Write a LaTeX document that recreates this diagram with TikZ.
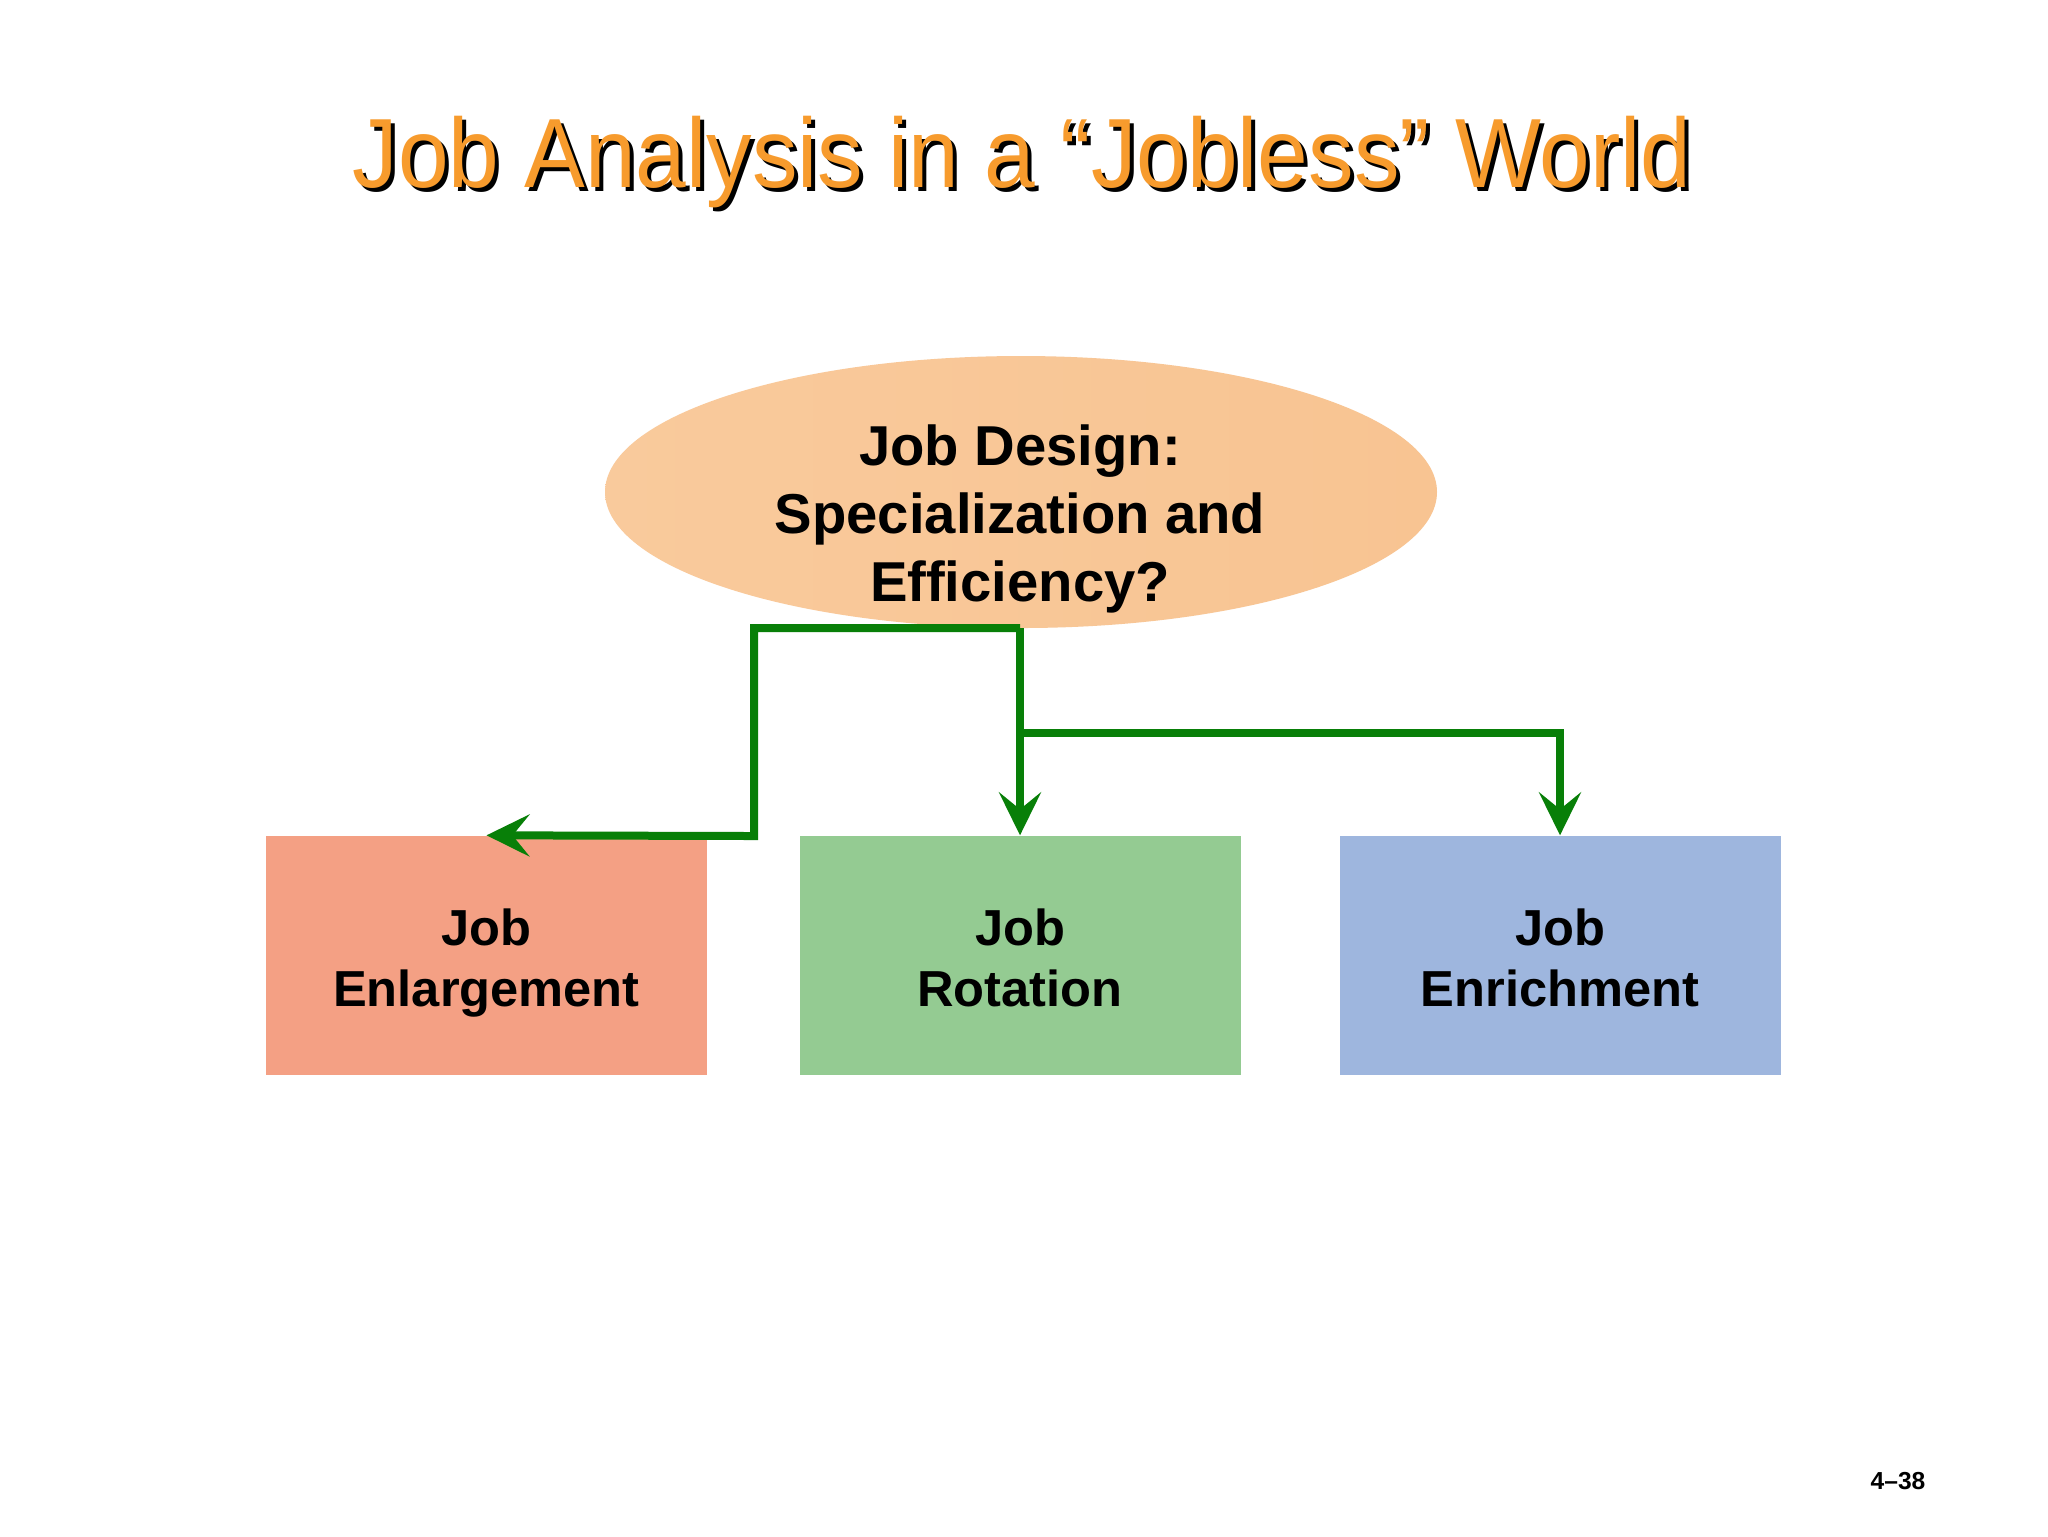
\documentclass[tikz,border=0pt]{standalone}
\usepackage{fontspec}
\setmainfont{Liberation Sans}
\newfontfamily\titlefont[FakeStretch=0.925]{Liberation Sans}
\usetikzlibrary{arrows.meta,shapes.geometric}
\definecolor{titleorange}{RGB}{247,155,45}
\definecolor{peachL}{RGB}{249,202,156}
\definecolor{peachR}{RGB}{248,196,146}
\definecolor{salmon}{RGB}{244,160,132}
\definecolor{softgreen}{RGB}{148,203,146}
\definecolor{softblue}{RGB}{158,182,222}
\definecolor{connGreen}{RGB}{8,127,8}
\tikzset{
  titletext/.style={font=\titlefont\fontsize{28}{31}\selectfont, inner sep=0pt},
  ovalbox/.style={ellipse, minimum width=83.2mm, minimum height=27.2mm, inner sep=0pt,
    left color=peachL, right color=peachR, draw=none},
  ovaltext/.style={align=center, font=\bfseries\fontsize{16}{19.3}\selectfont, inner sep=0pt},
  jobbox/.style={rectangle, minimum width=44.1mm, minimum height=23.9mm, inner sep=0pt, draw=none},
  jobtext/.style={align=center, font=\bfseries\fontsize{14.4}{17.3}\selectfont, inner sep=0pt, text depth=0pt},
  conn/.style={draw=connGreen, line width=0.8mm},
  arr/.style={conn, -{Stealth[length=4.3mm,width=4.2mm,inset=1.7mm]}},
}
\begin{document}
\begin{tikzpicture}[x=0.1mm,y=-0.1mm]
\useasboundingbox[fill=white] (0,0) rectangle (2048,1536);
% title with shadow
\node[titletext, anchor=base, text=black] (titleshadow) at (1026,191) {Job Analysis in a “Jobless” World};
\node[titletext, anchor=base, text=titleorange] (title) at (1022,187) {Job Analysis in a “Jobless” World};
% ellipse
\node[ovalbox] (el) at (1021,492) {};
\node[ovaltext] (eltext) at (1020,519) {Job Design:\\Specialization and\\Efficiency?};
% boxes
\node[jobbox, fill=salmon] (enl) at (486.5,955.5) {};
\node[jobbox, fill=softgreen] (rot) at (1020,955.5) {};
\node[jobbox, fill=softblue] (enr) at (1560,955.5) {};
\node[jobtext] (enltext) at (486.5,958) {Job\\Enlargement};
\node[jobtext] (rottext) at (1020,958) {Job\\Rotation};
\node[jobtext] (enrtext) at (1560,958) {Job\\Enrichment};
% connectors
\coordinate (top) at (1020,628);
\coordinate (lc1) at (754,628);
\coordinate (lc2) at (754,836);
\coordinate (br) at (1020,733);
\coordinate (rc) at (1560,733);
\draw[arr] (top) -- (lc1) -- (lc2) -- (enl.north);
\draw[arr] (top) -- (rot.north);
\draw[arr] (br) -- (rc) -- (enr.north);
% page number
\node[font=\bfseries\fontsize{7}{8}\selectfont, inner sep=0pt] (pg) at (1898,1481) {4–38};
\end{tikzpicture}
\end{document}
